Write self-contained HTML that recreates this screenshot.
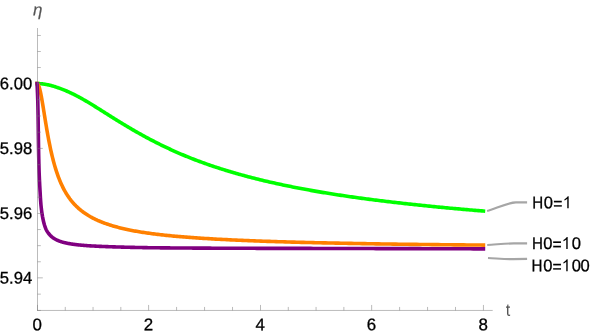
<!DOCTYPE html>
<html><head><meta charset="utf-8"><title>plot</title>
<style>
html,body{margin:0;padding:0;background:#fff;}
body{width:598px;height:336px;overflow:hidden;}
svg{display:block;will-change:transform;}
text{font-family:"Liberation Sans",sans-serif;font-size:16.9px;fill:#000;stroke:#000;stroke-width:0.3px;}
</style></head><body>
<svg width="598" height="336" viewBox="0 0 598 336">
<rect width="598" height="336" fill="#fff"/>
<path d="M35.30,83.60 L37.10,83.60 L37.16,83.60 L37.26,83.60 L37.39,83.60 L37.55,83.60 L37.73,83.60 L37.92,83.61 L38.14,83.61 L38.37,83.61 L38.61,83.62 L38.87,83.63 L39.14,83.64 L39.43,83.65 L39.72,83.66 L40.03,83.68 L40.35,83.70 L40.68,83.73 L41.03,83.76 L41.38,83.79 L41.74,83.83 L42.11,83.87 L42.49,83.91 L42.88,83.96 L43.28,84.01 L43.68,84.07 L44.10,84.13 L44.52,84.19 L44.96,84.26 L45.40,84.33 L45.85,84.41 L46.30,84.49 L46.77,84.58 L47.24,84.67 L47.72,84.77 L48.20,84.87 L48.70,84.98 L49.20,85.09 L49.70,85.21 L50.22,85.33 L50.74,85.47 L51.27,85.60 L51.80,85.75 L52.34,85.90 L52.89,86.05 L53.44,86.21 L54.00,86.38 L54.57,86.56 L55.14,86.74 L55.72,86.93 L56.31,87.13 L56.90,87.33 L57.50,87.54 L58.10,87.76 L58.71,87.96 L59.32,88.18 L59.94,88.40 L60.57,88.62 L61.20,88.86 L61.84,89.10 L62.48,89.35 L63.13,89.61 L63.78,89.87 L64.44,90.14 L65.10,90.42 L65.77,90.71 L66.45,90.99 L67.13,91.28 L67.81,91.58 L68.50,91.89 L69.20,92.20 L69.90,92.52 L70.60,92.85 L71.31,93.19 L72.03,93.53 L72.75,93.88 L73.47,94.23 L74.20,94.59 L74.94,94.96 L75.68,95.34 L76.42,95.73 L77.17,96.12 L77.92,96.52 L78.68,96.92 L79.45,97.34 L80.21,97.75 L80.98,98.18 L81.76,98.61 L82.54,99.05 L83.33,99.49 L84.12,99.94 L84.91,100.39 L85.71,100.85 L86.52,101.32 L87.32,101.79 L88.14,102.26 L88.95,102.76 L89.77,103.26 L90.60,103.76 L91.43,104.27 L92.26,104.78 L93.10,105.30 L93.94,105.82 L94.79,106.35 L95.64,106.88 L96.49,107.42 L97.35,107.95 L98.21,108.50 L99.08,109.04 L99.95,109.59 L100.83,110.14 L101.71,110.70 L102.59,111.25 L103.48,111.81 L104.37,112.38 L105.26,112.94 L106.16,113.51 L107.06,114.08 L107.97,114.65 L108.88,115.22 L109.80,115.80 L110.71,116.38 L111.64,116.96 L112.56,117.54 L113.49,118.12 L114.42,118.70 L115.36,119.28 L116.30,119.87 L117.25,120.45 L118.20,121.04 L119.15,121.62 L120.10,122.21 L121.06,122.80 L122.03,123.38 L122.99,123.97 L123.96,124.56 L124.94,125.15 L125.92,125.73 L126.90,126.32 L127.88,126.90 L128.87,127.49 L129.86,128.07 L130.86,128.66 L131.86,129.24 L132.86,129.82 L133.87,130.41 L134.88,130.99 L135.89,131.56 L136.91,132.14 L137.93,132.72 L138.95,133.29 L139.98,133.87 L141.01,134.44 L142.04,135.02 L143.08,135.59 L144.12,136.16 L145.16,136.73 L146.21,137.30 L147.26,137.87 L148.32,138.43 L149.37,138.99 L150.44,139.55 L151.50,140.11 L152.57,140.67 L153.64,141.22 L154.71,141.77 L155.79,142.32 L156.87,142.87 L157.95,143.42 L159.04,143.96 L160.13,144.50 L161.23,145.04 L162.32,145.57 L163.42,146.11 L164.53,146.64 L165.63,147.17 L166.74,147.69 L167.85,148.21 L168.97,148.73 L170.09,149.25 L171.21,149.77 L172.34,150.28 L173.47,150.79 L174.60,151.30 L175.73,151.80 L176.87,152.31 L178.01,152.80 L179.15,153.30 L180.30,153.80 L181.45,154.29 L182.61,154.78 L183.76,155.26 L184.92,155.74 L186.08,156.23 L187.25,156.70 L188.42,157.18 L189.59,157.65 L190.76,158.12 L191.94,158.58 L193.12,159.04 L194.31,159.50 L195.49,159.95 L196.68,160.40 L197.87,160.85 L199.07,161.30 L200.27,161.74 L201.47,162.18 L202.67,162.62 L203.88,163.05 L205.09,163.48 L206.30,163.91 L207.52,164.34 L208.74,164.76 L209.96,165.19 L211.18,165.60 L212.41,166.02 L213.64,166.43 L214.87,166.84 L216.11,167.25 L217.35,167.66 L218.59,168.06 L219.83,168.46 L221.08,168.86 L222.33,169.26 L223.59,169.65 L224.84,170.04 L226.10,170.43 L227.36,170.81 L228.63,171.19 L229.89,171.57 L231.16,171.95 L232.43,172.33 L233.71,172.70 L234.99,173.07 L236.27,173.44 L237.55,173.80 L238.84,174.17 L240.13,174.53 L241.42,174.89 L242.71,175.24 L244.01,175.60 L245.31,175.95 L246.61,176.30 L247.92,176.64 L249.23,176.99 L250.54,177.33 L251.85,177.67 L253.17,178.01 L254.49,178.34 L255.81,178.68 L257.13,179.01 L258.46,179.34 L259.79,179.66 L261.12,179.99 L262.46,180.31 L263.79,180.63 L265.13,180.95 L266.48,181.26 L267.82,181.58 L269.17,181.89 L270.52,182.20 L271.87,182.51 L273.23,182.81 L274.59,183.12 L275.95,183.42 L277.31,183.72 L278.68,184.02 L280.05,184.31 L281.42,184.61 L282.79,184.90 L284.17,185.19 L285.55,185.48 L286.93,185.76 L288.31,186.05 L289.70,186.33 L291.09,186.61 L292.48,186.89 L293.87,187.17 L295.27,187.45 L296.67,187.72 L298.07,187.99 L299.48,188.26 L300.88,188.53 L302.29,188.80 L303.70,189.06 L305.12,189.32 L306.54,189.59 L307.95,189.85 L309.38,190.10 L310.80,190.36 L312.23,190.62 L313.66,190.87 L315.09,191.12 L316.52,191.37 L317.96,191.62 L319.40,191.87 L320.84,192.11 L322.28,192.36 L323.73,192.60 L325.18,192.84 L326.63,193.08 L328.08,193.32 L329.54,193.55 L331.00,193.79 L332.46,194.02 L333.92,194.25 L335.39,194.47 L336.86,194.70 L338.33,194.93 L339.80,195.15 L341.28,195.37 L342.75,195.59 L344.23,195.81 L345.72,196.03 L347.20,196.25 L348.69,196.47 L350.18,196.68 L351.67,196.89 L353.16,197.11 L354.66,197.32 L356.16,197.53 L357.66,197.73 L359.17,197.94 L360.67,198.14 L362.18,198.35 L363.69,198.55 L365.20,198.75 L366.72,198.95 L368.24,199.15 L369.76,199.35 L371.28,199.55 L372.81,199.74 L374.33,199.94 L375.86,200.13 L377.39,200.32 L378.93,200.51 L380.46,200.70 L382.00,200.89 L383.54,201.08 L385.09,201.27 L386.63,201.45 L388.18,201.63 L389.73,201.82 L391.28,202.00 L392.84,202.18 L394.39,202.36 L395.95,202.54 L397.51,202.72 L399.08,202.89 L400.64,203.07 L402.21,203.25 L403.78,203.43 L405.35,203.60 L406.93,203.78 L408.51,203.95 L410.09,204.13 L411.67,204.30 L413.25,204.47 L414.84,204.64 L416.43,204.81 L418.02,204.98 L419.61,205.15 L421.20,205.31 L422.80,205.48 L424.40,205.65 L426.00,205.81 L427.60,205.97 L429.21,206.14 L430.82,206.30 L432.43,206.46 L434.04,206.62 L435.66,206.78 L437.27,206.93 L438.89,207.09 L440.51,207.25 L442.14,207.40 L443.76,207.56 L445.39,207.71 L447.02,207.86 L448.65,208.02 L450.29,208.17 L451.92,208.32 L453.56,208.47 L455.20,208.62 L456.84,208.76 L458.49,208.91 L460.14,209.06 L461.79,209.20 L463.44,209.35 L465.09,209.49 L466.75,209.63 L468.40,209.78 L470.06,209.92 L471.73,210.06 L473.39,210.20 L475.06,210.34 L476.73,210.48 L478.40,210.62 L480.07,210.75 L481.74,210.89 L483.42,211.03 L485.21,211.17" stroke="#00ff00" stroke-width="3.6" fill="none" stroke-linecap="butt" stroke-linejoin="round"/>
<path d="M37.10,81.80 L37.10,83.60 L37.10,83.60 L37.10,83.60 L37.10,83.60 L37.10,83.60 L37.10,83.60 L37.10,83.60 L37.10,83.60 L37.10,83.60 L37.11,83.60 L37.11,83.60 L37.11,83.60 L37.11,83.60 L37.12,83.60 L37.12,83.60 L37.12,83.60 L37.13,83.60 L37.13,83.60 L37.14,83.60 L37.15,83.60 L37.16,83.60 L37.17,83.60 L37.17,83.60 L37.19,83.61 L37.20,83.61 L37.21,83.61 L37.22,83.61 L37.24,83.62 L37.25,83.62 L37.27,83.62 L37.29,83.63 L37.31,83.64 L37.33,83.64 L37.35,83.65 L37.38,83.66 L37.40,83.67 L37.43,83.69 L37.46,83.70 L37.49,83.72 L37.52,83.74 L37.55,83.76 L37.58,83.79 L37.62,83.82 L37.66,83.85 L37.70,83.89 L37.74,83.93 L37.78,83.98 L37.83,84.03 L37.88,84.09 L37.93,84.15 L37.98,84.22 L38.03,84.30 L38.09,84.39 L38.15,84.48 L38.21,84.59 L38.27,84.70 L38.33,84.82 L38.40,84.96 L38.47,85.11 L38.54,85.27 L38.62,85.44 L38.69,85.63 L38.77,85.83 L38.86,86.05 L38.94,86.29 L39.03,86.54 L39.12,86.82 L39.21,87.11 L39.31,87.42 L39.41,87.76 L39.51,88.12 L39.61,88.50 L39.72,88.91 L39.83,89.35 L39.95,89.81 L40.06,90.30 L40.18,90.81 L40.31,91.36 L40.43,91.94 L40.56,92.55 L40.70,93.19 L40.83,93.86 L40.97,94.56 L41.12,95.30 L41.26,96.08 L41.42,96.88 L41.57,97.73 L41.73,98.60 L41.89,99.52 L42.05,100.46 L42.22,101.45 L42.39,102.46 L42.57,103.51 L42.75,104.60 L42.94,105.72 L43.12,106.87 L43.32,108.05 L43.51,109.27 L43.71,110.51 L43.92,111.78 L44.13,113.09 L44.34,114.41 L44.56,115.77 L44.78,117.14 L45.00,118.54 L45.23,119.96 L45.47,121.40 L45.71,122.86 L45.95,124.33 L46.20,125.82 L46.45,127.32 L46.71,128.83 L46.97,130.35 L47.24,131.88 L47.51,133.42 L47.79,134.95 L48.07,136.50 L48.35,138.04 L48.64,139.58 L48.94,141.12 L49.24,142.66 L49.55,144.20 L49.86,145.73 L50.18,147.25 L50.50,148.76 L50.82,150.27 L51.16,151.76 L51.49,153.24 L51.84,154.71 L52.18,156.17 L52.54,157.62 L52.90,159.05 L53.26,160.46 L53.63,161.86 L54.01,163.24 L54.39,164.61 L54.77,165.96 L55.17,167.29 L55.57,168.61 L55.97,169.90 L56.38,171.18 L56.80,172.44 L57.22,173.68 L57.65,174.90 L58.08,176.11 L58.52,177.29 L58.97,178.46 L59.42,179.61 L59.88,180.73 L60.34,181.84 L60.81,182.93 L61.29,184.01 L61.78,185.06 L62.27,186.10 L62.76,187.11 L63.27,188.11 L63.77,189.09 L64.29,190.06 L64.81,191.01 L65.34,191.94 L65.88,192.85 L66.42,193.74 L66.97,194.62 L67.53,195.49 L68.09,196.33 L68.66,197.17 L69.24,197.98 L69.82,198.78 L70.42,199.57 L71.01,200.34 L71.62,201.10 L72.23,201.84 L72.85,202.57 L73.48,203.28 L74.11,203.99 L74.76,204.67 L75.41,205.35 L76.06,206.01 L76.73,206.66 L77.40,207.30 L78.08,207.93 L78.76,208.54 L79.46,209.15 L80.16,209.74 L80.87,210.32 L81.59,210.89 L82.31,211.45 L83.05,212.00 L83.79,212.54 L84.54,213.06 L85.29,213.58 L86.06,214.09 L86.83,214.59 L87.61,215.08 L88.40,215.57 L89.20,216.04 L90.00,216.50 L90.82,216.96 L91.64,217.41 L92.47,217.85 L93.31,218.28 L94.16,218.70 L95.01,219.12 L95.88,219.54 L96.75,219.94 L97.63,220.35 L98.52,220.74 L99.42,221.13 L100.33,221.51 L101.25,221.88 L102.17,222.25 L103.10,222.61 L104.05,222.97 L105.00,223.32 L105.96,223.66 L106.93,224.00 L107.91,224.33 L108.90,224.66 L109.89,224.98 L110.90,225.30 L111.92,225.61 L112.94,225.92 L113.98,226.22 L115.02,226.51 L116.07,226.81 L117.13,227.09 L118.21,227.37 L119.29,227.65 L120.38,227.93 L121.48,228.20 L122.59,228.46 L123.71,228.72 L124.84,228.98 L125.98,229.23 L127.13,229.48 L128.29,229.73 L129.46,229.97 L130.63,230.21 L131.82,230.44 L133.02,230.67 L134.23,230.90 L135.45,231.12 L136.68,231.34 L137.92,231.55 L139.17,231.76 L140.43,231.96 L141.70,232.17 L142.98,232.37 L144.27,232.56 L145.57,232.76 L146.89,232.95 L148.21,233.14 L149.54,233.32 L150.89,233.50 L152.24,233.68 L153.61,233.86 L154.98,234.03 L156.37,234.21 L157.77,234.38 L159.18,234.54 L160.59,234.71 L162.02,234.87 L163.47,235.03 L164.92,235.19 L166.38,235.35 L167.86,235.50 L169.34,235.65 L170.84,235.80 L172.35,235.94 L173.87,236.09 L175.40,236.23 L176.94,236.37 L178.50,236.50 L180.06,236.64 L181.64,236.77 L183.23,236.90 L184.83,237.03 L186.44,237.16 L188.06,237.28 L189.69,237.41 L191.34,237.53 L193.00,237.65 L194.67,237.77 L196.35,237.89 L198.05,238.00 L199.75,238.12 L201.47,238.23 L203.20,238.34 L204.94,238.45 L206.70,238.56 L208.46,238.67 L210.24,238.77 L212.03,238.88 L213.84,238.98 L215.65,239.08 L217.48,239.18 L219.32,239.28 L221.18,239.38 L223.04,239.48 L224.92,239.57 L226.81,239.67 L228.71,239.76 L230.63,239.85 L232.56,239.94 L234.50,240.03 L236.46,240.12 L238.42,240.21 L240.40,240.30 L242.40,240.38 L244.40,240.47 L246.42,240.55 L248.45,240.63 L250.50,240.71 L252.56,240.79 L254.63,240.87 L256.71,240.95 L258.81,241.03 L260.92,241.10 L263.05,241.18 L265.19,241.26 L267.34,241.33 L269.50,241.40 L271.68,241.48 L273.87,241.55 L276.08,241.62 L278.30,241.69 L280.53,241.76 L282.78,241.82 L285.04,241.89 L287.32,241.95 L289.60,242.02 L291.91,242.08 L294.22,242.15 L296.55,242.21 L298.90,242.27 L301.26,242.33 L303.63,242.39 L306.02,242.45 L308.42,242.51 L310.83,242.57 L313.26,242.63 L315.71,242.68 L318.16,242.74 L320.64,242.80 L323.12,242.85 L325.63,242.91 L328.14,242.96 L330.67,243.01 L333.22,243.07 L335.78,243.12 L338.35,243.17 L340.94,243.22 L343.55,243.27 L346.17,243.32 L348.80,243.37 L351.45,243.42 L354.11,243.47 L356.79,243.52 L359.49,243.57 L362.20,243.61 L364.92,243.66 L367.66,243.71 L370.41,243.75 L373.18,243.80 L375.97,243.84 L378.77,243.88 L381.59,243.93 L384.42,243.97 L387.26,244.01 L390.13,244.06 L393.00,244.10 L395.90,244.14 L398.81,244.18 L401.73,244.22 L404.67,244.26 L407.63,244.30 L410.60,244.34 L413.59,244.38 L416.59,244.42 L419.61,244.46 L422.65,244.50 L425.70,244.53 L428.77,244.57 L431.85,244.61 L434.95,244.64 L438.07,244.67 L441.20,244.70 L444.35,244.73 L447.51,244.76 L450.70,244.80 L453.89,244.83 L457.11,244.86 L460.34,244.89 L463.59,244.92 L466.85,244.94 L470.13,244.97 L473.43,245.00 L476.74,245.03 L480.07,245.06 L483.42,245.08 L485.22,245.10" stroke="#ff8000" stroke-width="3.6" fill="none" stroke-linecap="butt" stroke-linejoin="round"/>
<path d="M37.10,81.80 L37.02,83.60 L37.02,83.60 L37.02,83.60 L37.02,83.60 L37.02,83.60 L37.02,83.60 L37.02,83.60 L37.02,83.60 L37.02,83.60 L37.03,83.60 L37.03,83.60 L37.03,83.60 L37.03,83.61 L37.03,83.61 L37.04,83.62 L37.04,83.62 L37.05,83.64 L37.05,83.65 L37.06,83.67 L37.06,83.70 L37.07,83.74 L37.08,83.79 L37.08,83.85 L37.09,83.92 L37.10,84.02 L37.10,84.13 L37.11,84.27 L37.12,84.44 L37.12,84.65 L37.13,84.89 L37.13,85.17 L37.13,85.51 L37.14,85.90 L37.16,86.36 L37.19,86.89 L37.22,87.49 L37.26,88.18 L37.30,88.96 L37.34,89.84 L37.39,90.83 L37.43,91.94 L37.49,93.16 L37.54,94.51 L37.60,96.00 L37.66,97.62 L37.73,99.38 L37.78,101.28 L37.83,103.32 L37.88,105.50 L37.93,107.82 L37.98,110.27 L38.03,112.84 L38.09,115.53 L38.13,118.32 L38.17,121.21 L38.21,124.18 L38.25,127.22 L38.29,130.32 L38.33,133.47 L38.38,136.64 L38.42,139.83 L38.47,143.03 L38.53,146.22 L38.58,149.39 L38.64,152.54 L38.70,155.64 L38.77,158.70 L38.83,161.70 L38.90,164.64 L38.98,167.51 L39.06,170.31 L39.16,173.04 L39.27,175.70 L39.38,178.27 L39.50,180.76 L39.61,183.17 L39.73,185.50 L39.86,187.75 L39.98,189.92 L40.11,192.01 L40.22,194.03 L40.32,195.97 L40.43,197.83 L40.55,199.63 L40.67,201.35 L40.80,203.01 L40.93,204.60 L41.08,206.13 L41.24,207.60 L41.40,209.01 L41.57,210.36 L41.74,211.66 L41.92,212.91 L42.10,214.11 L42.29,215.26 L42.47,216.36 L42.67,217.42 L42.86,218.44 L43.06,219.42 L43.27,220.36 L43.48,221.26 L43.69,222.13 L43.90,222.96 L44.12,223.77 L44.34,224.54 L44.56,225.28 L44.79,225.99 L45.03,226.68 L45.27,227.34 L45.51,227.98 L45.76,228.59 L46.01,229.18 L46.27,229.75 L46.55,230.30 L46.85,230.82 L47.16,231.33 L47.47,231.82 L47.78,232.30 L48.09,232.75 L48.41,233.19 L48.74,233.62 L49.06,234.03 L49.40,234.43 L49.73,234.81 L50.08,235.18 L50.42,235.54 L50.77,235.88 L51.13,236.22 L51.49,236.54 L51.85,236.85 L52.22,237.15 L52.60,237.45 L52.98,237.73 L53.36,238.00 L53.75,238.27 L54.15,238.53 L54.55,238.78 L54.95,239.02 L55.36,239.25 L55.78,239.48 L56.20,239.70 L56.63,239.91 L57.06,240.12 L57.50,240.32 L57.95,240.51 L58.40,240.70 L58.85,240.88 L59.31,241.06 L59.78,241.24 L60.26,241.40 L60.74,241.57 L61.22,241.72 L61.71,241.88 L62.21,242.03 L62.72,242.17 L63.23,242.32 L63.75,242.45 L64.27,242.59 L64.80,242.72 L65.34,242.84 L65.88,242.97 L66.42,243.09 L66.97,243.20 L67.53,243.32 L68.09,243.43 L68.66,243.54 L69.24,243.64 L69.82,243.74 L70.42,243.84 L71.01,243.94 L71.62,244.03 L72.23,244.13 L72.85,244.22 L73.48,244.30 L74.11,244.39 L74.76,244.47 L75.41,244.56 L76.06,244.63 L76.73,244.71 L77.40,244.79 L78.08,244.86 L78.76,244.93 L79.46,245.00 L80.16,245.07 L80.87,245.14 L81.59,245.21 L82.31,245.27 L83.05,245.33 L83.79,245.39 L84.54,245.45 L85.29,245.51 L86.06,245.57 L86.83,245.62 L87.61,245.68 L88.40,245.73 L89.20,245.78 L90.00,245.84 L90.82,245.89 L91.64,245.93 L92.47,245.98 L93.31,246.03 L94.16,246.07 L95.01,246.12 L95.88,246.16 L96.75,246.21 L97.63,246.25 L98.52,246.29 L99.42,246.33 L100.33,246.37 L101.25,246.41 L102.17,246.44 L103.10,246.48 L104.05,246.52 L105.00,246.55 L105.96,246.59 L106.93,246.62 L107.91,246.65 L108.90,246.69 L109.89,246.72 L110.90,246.76 L111.92,246.79 L112.94,246.83 L113.98,246.86 L115.02,246.90 L116.07,246.93 L117.13,246.96 L118.21,247.00 L119.29,247.03 L120.38,247.06 L121.48,247.09 L122.59,247.12 L123.71,247.15 L124.84,247.18 L125.98,247.21 L127.13,247.24 L128.29,247.27 L129.46,247.30 L130.63,247.33 L131.82,247.35 L133.02,247.38 L134.23,247.41 L135.45,247.44 L136.68,247.46 L137.92,247.49 L139.17,247.51 L140.43,247.54 L141.70,247.57 L142.98,247.59 L144.27,247.62 L145.57,247.64 L146.89,247.66 L148.21,247.69 L149.54,247.71 L150.89,247.73 L152.24,247.75 L153.61,247.76 L154.98,247.78 L156.37,247.79 L157.77,247.81 L159.18,247.82 L160.59,247.84 L162.02,247.85 L163.47,247.86 L164.92,247.88 L166.38,247.89 L167.86,247.90 L169.34,247.91 L170.84,247.93 L172.35,247.94 L173.87,247.95 L175.40,247.96 L176.94,247.98 L178.50,247.99 L180.06,248.00 L181.64,248.01 L183.23,248.02 L184.83,248.03 L186.44,248.04 L188.06,248.05 L189.69,248.06 L191.34,248.07 L193.00,248.08 L194.67,248.09 L196.35,248.10 L198.05,248.11 L199.75,248.12 L201.47,248.13 L203.20,248.14 L204.94,248.14 L206.70,248.15 L208.46,248.16 L210.24,248.17 L212.03,248.18 L213.84,248.19 L215.65,248.19 L217.48,248.20 L219.32,248.21 L221.18,248.22 L223.04,248.22 L224.92,248.23 L226.81,248.24 L228.71,248.24 L230.63,248.25 L232.56,248.26 L234.50,248.26 L236.46,248.27 L238.42,248.28 L240.40,248.28 L242.40,248.29 L244.40,248.30 L246.42,248.30 L248.45,248.31 L250.50,248.31 L252.56,248.32 L254.63,248.32 L256.71,248.33 L258.81,248.33 L260.92,248.33 L263.05,248.34 L265.19,248.34 L267.34,248.35 L269.50,248.35 L271.68,248.35 L273.87,248.36 L276.08,248.36 L278.30,248.36 L280.53,248.37 L282.78,248.37 L285.04,248.37 L287.32,248.38 L289.60,248.38 L291.91,248.38 L294.22,248.39 L296.55,248.39 L298.90,248.39 L301.26,248.40 L303.63,248.40 L306.02,248.41 L308.42,248.42 L310.83,248.42 L313.26,248.43 L315.71,248.44 L318.16,248.44 L320.64,248.45 L323.12,248.46 L325.63,248.46 L328.14,248.47 L330.67,248.48 L333.22,248.48 L335.78,248.49 L338.35,248.50 L340.94,248.50 L343.55,248.51 L346.17,248.51 L348.80,248.52 L351.45,248.53 L354.11,248.53 L356.79,248.54 L359.49,248.54 L362.20,248.55 L364.92,248.56 L367.66,248.56 L370.41,248.57 L373.18,248.57 L375.97,248.58 L378.77,248.59 L381.59,248.59 L384.42,248.60 L387.26,248.60 L390.13,248.61 L393.00,248.61 L395.90,248.62 L398.81,248.63 L401.73,248.63 L404.67,248.64 L407.63,248.64 L410.60,248.65 L413.59,248.65 L416.59,248.66 L419.61,248.67 L422.65,248.68 L425.70,248.69 L428.77,248.70 L431.85,248.71 L434.95,248.72 L438.07,248.73 L441.20,248.74 L444.35,248.75 L447.51,248.76 L450.70,248.77 L453.89,248.77 L457.11,248.78 L460.34,248.79 L463.59,248.80 L466.85,248.81 L470.13,248.82 L473.43,248.83 L476.74,248.84 L480.07,248.85 L483.42,248.86 L485.22,248.87" stroke="#800080" stroke-width="3.6" fill="none" stroke-linecap="butt" stroke-linejoin="round"/>

<g stroke="#777" stroke-width="0.5" fill="none"><line x1="37.5" y1="28.0" x2="37.5" y2="310.75"/><line x1="37.2" y1="310.45" x2="492.7" y2="310.45"/>
<line x1="37.5" y1="310.45" x2="40.80" y2="310.45"/>
<line x1="37.5" y1="294.15" x2="40.80" y2="294.15"/>
<line x1="37.5" y1="277.85" x2="42.80" y2="277.85"/>
<line x1="37.5" y1="261.75" x2="40.80" y2="261.75"/>
<line x1="37.5" y1="245.65" x2="40.80" y2="245.65"/>
<line x1="37.5" y1="229.55" x2="40.80" y2="229.55"/>
<line x1="37.5" y1="213.45" x2="42.80" y2="213.45"/>
<line x1="37.5" y1="197.19" x2="40.80" y2="197.19"/>
<line x1="37.5" y1="180.93" x2="40.80" y2="180.93"/>
<line x1="37.5" y1="164.66" x2="40.80" y2="164.66"/>
<line x1="37.5" y1="148.40" x2="42.80" y2="148.40"/>
<line x1="37.5" y1="132.19" x2="40.80" y2="132.19"/>
<line x1="37.5" y1="115.98" x2="40.80" y2="115.98"/>
<line x1="37.5" y1="99.76" x2="40.80" y2="99.76"/>
<line x1="37.5" y1="83.55" x2="42.80" y2="83.55"/>
<line x1="37.5" y1="67.53" x2="40.80" y2="67.53"/>
<line x1="37.5" y1="51.50" x2="40.80" y2="51.50"/>
<line x1="37.5" y1="35.48" x2="40.80" y2="35.48"/>
<line x1="37.50" y1="310.45" x2="37.50" y2="304.95"/>
<line x1="65.28" y1="310.45" x2="65.28" y2="306.95"/>
<line x1="93.05" y1="310.45" x2="93.05" y2="306.95"/>
<line x1="120.82" y1="310.45" x2="120.82" y2="306.95"/>
<line x1="148.60" y1="310.45" x2="148.60" y2="304.95"/>
<line x1="176.57" y1="310.45" x2="176.57" y2="306.95"/>
<line x1="204.55" y1="310.45" x2="204.55" y2="306.95"/>
<line x1="232.53" y1="310.45" x2="232.53" y2="306.95"/>
<line x1="260.50" y1="310.45" x2="260.50" y2="304.95"/>
<line x1="288.29" y1="310.45" x2="288.29" y2="306.95"/>
<line x1="316.07" y1="310.45" x2="316.07" y2="306.95"/>
<line x1="343.86" y1="310.45" x2="343.86" y2="306.95"/>
<line x1="371.65" y1="310.45" x2="371.65" y2="304.95"/>
<line x1="399.60" y1="310.45" x2="399.60" y2="306.95"/>
<line x1="427.55" y1="310.45" x2="427.55" y2="306.95"/>
<line x1="455.50" y1="310.45" x2="455.50" y2="306.95"/>
<line x1="483.45" y1="310.45" x2="483.45" y2="304.95"/>
</g>
<g>
<text transform="matrix(0.985 0.0005 0 1 32.15 89.15)" text-anchor="end">6.00</text>
<text transform="matrix(0.985 0.0005 0 1 32.15 154.00)" text-anchor="end">5.98</text>
<text transform="matrix(0.985 0.0005 0 1 32.15 219.05)" text-anchor="end">5.96</text>
<text transform="matrix(0.985 0.0005 0 1 32.15 283.45)" text-anchor="end">5.94</text>
<text transform="matrix(1 0.0005 0 1 37.25 330.2)" text-anchor="middle">0</text>
<text transform="matrix(1 0.0005 0 1 148.35 330.2)" text-anchor="middle">2</text>
<text transform="matrix(1 0.0005 0 1 260.25 330.2)" text-anchor="middle">4</text>
<text transform="matrix(1 0.0005 0 1 371.40 330.2)" text-anchor="middle">6</text>
<text transform="matrix(1 0.0005 0 1 483.20 330.2)" text-anchor="middle">8</text>

<g><text transform="matrix(0.895 0.0005 0 1 532.31 208.25)">H</text>
<text transform="matrix(0.98 0.0005 0 1 543.75 208.25)">0</text>
<text transform="matrix(0.93 0.0005 0 1 553.33 209.20)">=</text>
<text transform="matrix(0.98 0.0005 0 1 562.71 208.25)" style="fill:none;stroke:none">1</text><path d="M763 0H583V1147Q518 1085 412.5 1023T223 930V1104Q373 1174.5 485.5 1275T645 1470H763Z" transform="translate(562.71 208.25) scale(0.007812 -0.008203)" fill="#000"/>
</g>
<g><text transform="matrix(0.895 0.0005 0 1 532.06 249.00)">H</text>
<text transform="matrix(0.98 0.0005 0 1 543.15 249.00)">0</text>
<text transform="matrix(0.93 0.0005 0 1 552.53 249.95)">=</text>
<text transform="matrix(0.98 0.0005 0 1 561.71 249.00)" style="fill:none;stroke:none">1</text><path d="M763 0H583V1147Q518 1085 412.5 1023T223 930V1104Q373 1174.5 485.5 1275T645 1470H763Z" transform="translate(561.71 249.00) scale(0.007812 -0.008203)" fill="#000"/>
<text transform="matrix(0.98 0.0005 0 1 571.65 249.00)">0</text>
</g>
<g><text transform="matrix(0.895 0.0005 0 1 531.61 271.20)">H</text>
<text transform="matrix(0.98 0.0005 0 1 543.15 271.20)">0</text>
<text transform="matrix(0.93 0.0005 0 1 552.53 272.15)">=</text>
<text transform="matrix(0.98 0.0005 0 1 561.71 271.20)" style="fill:none;stroke:none">1</text><path d="M763 0H583V1147Q518 1085 412.5 1023T223 930V1104Q373 1174.5 485.5 1275T645 1470H763Z" transform="translate(561.71 271.20) scale(0.007812 -0.008203)" fill="#000"/>
<text transform="matrix(0.98 0.0005 0 1 571.65 271.20)">0</text>
<text transform="matrix(0.98 0.0005 0 1 580.55 271.20)">0</text>
</g>

</g>
<text transform="matrix(1 0.0005 0 1 33.0 15.45)" style="font-style:italic;fill:#555;font-size:17px;stroke:#555;stroke-width:0.2px">η</text>
<text transform="matrix(0.93 0.0005 0 1 505.85 315.75)" style="fill:#555;font-size:17.4px;stroke:none">t</text>
<g stroke="#a6a6a6" stroke-width="2.1" fill="none" stroke-linecap="butt"><path d="M487.1,210.9 C495,208.9 508,202.35 516,202.35 L527.1,202.35"/><path d="M487.2,244.95 C495,244.6 506,243.4 514,243.4 L527.1,243.4"/><path d="M488,258.0 C496,258.35 505,259.25 513,259.15 L527.1,258.9"/></g>
</svg>
</body></html>
